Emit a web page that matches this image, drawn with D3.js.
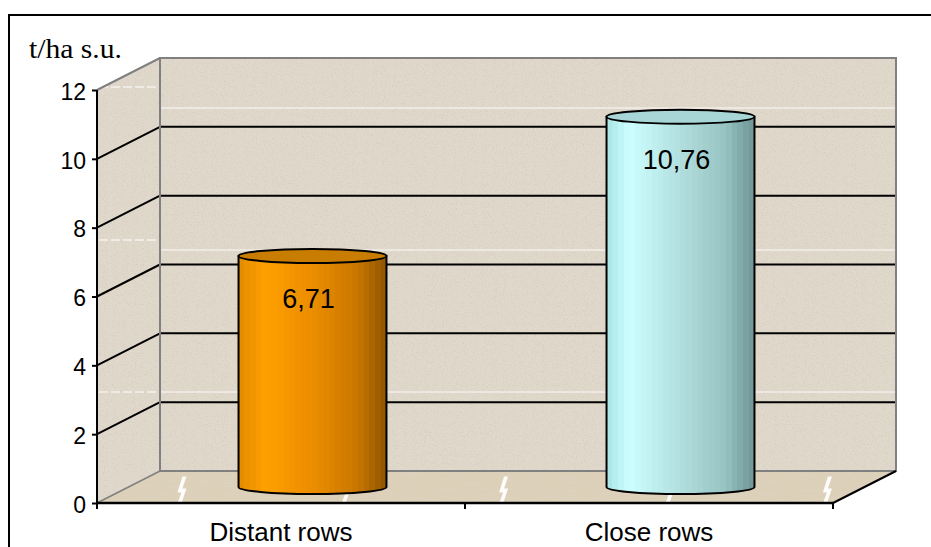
<!DOCTYPE html>
<html>
<head>
<meta charset="utf-8">
<script src="https://cdn.jsdelivr.net/npm/d3@7/dist/d3.min.js"></script>
<style>
  html, body { margin: 0; padding: 0; background: #ffffff; }
  svg { display: block; }
</style>
</head>
<body>
<svg id="chart" width="931" height="547"></svg>
<script>
// Yield per treatment (t/ha dry matter)
const categories = ["Distant rows", "Close rows"];
const values = [6.71, 10.76];
const valueLabels = ["6,71", "10,76"];
const yTicks = [0, 2, 4, 6, 8, 10, 12];
const gridValues = [2, 4, 6, 8, 10];
const unitLabel = "t/ha s.u.";

const W = 931, H = 547;
const svg = d3.select("#chart");
const defs = svg.append("defs");

// 3-D plot frame: front plane plus a depth offset to the back wall
const y = d3.scaleLinear().domain([0, 12]).range([503, 90]);
const x = d3.scaleBand().domain(categories).range([97, 833]);
const depth = { dx: 63, dy: -32 };
const xL = x.range()[0], xR = x.range()[1];
const yTop = y(12), yBot = y(0);

// ---- textures ----
const grain = defs.append("filter").attr("id", "grain")
  .attr("x", 0).attr("y", 0).attr("width", 1).attr("height", 1);
grain.append("feTurbulence").attr("type", "fractalNoise")
  .attr("baseFrequency", "0.9").attr("numOctaves", 2).attr("seed", 4).attr("result", "n");
grain.append("feColorMatrix").attr("in", "n").attr("type", "matrix")
  .attr("values", "0 0 0 0 0.62  0 0 0 0 0.58  0 0 0 0 0.5  4 0 0 0 -2.05").attr("result", "a");
grain.append("feComposite").attr("in", "a").attr("in2", "SourceAlpha").attr("operator", "in");

const streak = defs.append("filter").attr("id", "streak")
  .attr("x", 0).attr("y", 0).attr("width", 1).attr("height", 1);
streak.append("feTurbulence").attr("type", "fractalNoise")
  .attr("baseFrequency", "0.05 0.7").attr("numOctaves", 2).attr("seed", 7).attr("result", "n");
streak.append("feColorMatrix").attr("in", "n").attr("type", "matrix")
  .attr("values", "0 0 0 0 0.72  0 0 0 0 0.66  0 0 0 0 0.56  3.2 0 0 0 -1.5").attr("result", "a");
streak.append("feComposite").attr("in", "a").attr("in2", "SourceAlpha").attr("operator", "in");

// banded cylinder shading
function bandedGradient(id, keys, bands) {
  const interp = d3.scaleLinear().domain(keys.map(k => k[0])).range(keys.map(k => k[1]))
    .interpolate(d3.interpolateRgb);
  const g = defs.append("linearGradient").attr("id", id)
    .attr("x1", 0).attr("x2", 1).attr("y1", 0).attr("y2", 0);
  for (let i = 0; i < bands; i++) {
    const c = interp((i + 0.5) / bands);
    g.append("stop").attr("offset", i / bands).attr("stop-color", c);
    g.append("stop").attr("offset", (i + 1) / bands).attr("stop-color", c);
  }
}
bandedGradient("gOrange", [[0, "#e38a00"], [0.18, "#ffa000"], [0.5, "#eb8d00"], [0.8, "#c97600"], [1, "#8e5600"]], 26);
bandedGradient("gCyan", [[0, "#a9e2e2"], [0.15, "#ccffff"], [0.5, "#b2dede"], [0.8, "#97c3c3"], [1, "#6f9595"]], 26);
const barFill = ["url(#gOrange)", "url(#gCyan)"];
const capFill = ["#c97d00", "#a8d5d5"];

// ---- outer frame ----
svg.append("rect").attr("x", 9).attr("y", 15).attr("width", W + 20).attr("height", H + 20)
  .attr("fill", "#ffffff").attr("stroke", "#000").attr("stroke-width", 2);

// ---- walls and floor ----
const wallColor = "#e0d8cb";
const sideWall = [[xL, yTop], [xL + depth.dx, yTop + depth.dy], [xL + depth.dx, yBot + depth.dy], [xL, yBot]];
const backWall = [[xL + depth.dx, yTop + depth.dy], [xR + depth.dx, yTop + depth.dy],
                  [xR + depth.dx, yBot + depth.dy], [xL + depth.dx, yBot + depth.dy]];
const floor = [[xL, yBot], [xR, yBot], [xR + depth.dx, yBot + depth.dy], [xL + depth.dx, yBot + depth.dy]];
const line = d3.line();
const poly = p => line(p) + "Z";

[sideWall, backWall].forEach(p => {
  svg.append("path").attr("d", poly(p)).attr("fill", wallColor);
  svg.append("path").attr("d", poly(p)).attr("fill", "#fff").attr("filter", "url(#grain)").attr("opacity", 0.6);
});
svg.append("path").attr("d", poly(floor)).attr("fill", "#dcd0b8");
svg.append("path").attr("d", poly(floor)).attr("fill", "#fff").attr("filter", "url(#streak)").attr("opacity", 0.6);

// faint texture seams on the walls
const seamBack = [108, 250, 392];
seamBack.forEach(s => {
  svg.append("line").attr("x1", xL + depth.dx).attr("x2", xR + depth.dx).attr("y1", s).attr("y2", s)
    .attr("stroke", "#ffffff").attr("stroke-width", 1).attr("opacity", 0.9);
});
const seamSide = [87, 240, 392];
seamSide.forEach(s => {
  svg.append("line").attr("x1", xL + 2).attr("x2", xL + depth.dx).attr("y1", s).attr("y2", s)
    .attr("stroke", "#ffffff").attr("stroke-width", 1).attr("stroke-dasharray", "9 3");
});
// light tile breaks across the floor
const breaks = [0.113, 0.336, 0.55, 0.776, 0.99];
breaks.forEach(t => {
  const bx = xL + t * (xR - xL) + 0.02 * depth.dx;
  const by = yBot + 0.42 * depth.dy;
  svg.append("path")
    .attr("d", `M${bx + 5},${by - 13} L${bx + 1},${by - 1} L${bx + 5},${by - 1} L${bx},${by + 14} L${bx - 4},${by + 14} L${bx},${by + 3} L${bx - 4},${by + 3} L${bx + 1},${by - 13}Z`)
    .attr("fill", "#ffffff").attr("opacity", 0.95);
});

// ---- gridlines ----
const grid = svg.append("g").attr("stroke", "#000").attr("stroke-width", 2).attr("fill", "none");
gridValues.forEach(v => {
  grid.append("line").attr("x1", xL).attr("y1", y(v)).attr("x2", xL + depth.dx).attr("y2", y(v) + depth.dy);
  grid.append("line").attr("x1", xL + depth.dx).attr("y1", y(v) + depth.dy).attr("x2", xR + depth.dx).attr("y2", y(v) + depth.dy);
});

// wall outlines
const edge = svg.append("g").attr("stroke", "#808080").attr("stroke-width", 2).attr("fill", "none");
edge.append("path").attr("d", poly(backWall));
edge.append("line").attr("x1", xL).attr("y1", yTop).attr("x2", xL + depth.dx).attr("y2", yTop + depth.dy);
edge.append("line").attr("x1", xL).attr("y1", yBot).attr("x2", xL + depth.dx).attr("y2", yBot + depth.dy).attr("stroke-width", 1.5);

// ---- axes ----
const axisFont = "'Liberation Sans', Arial, sans-serif";
const yAxis = svg.append("g").attr("transform", `translate(${xL},0)`)
  .call(d3.axisLeft(y).tickValues(yTicks).tickSize(5).tickFormat(d3.format("d")));
yAxis.select(".domain").attr("stroke", "#000").attr("stroke-width", 2).attr("d", `M0,${yTop}V${yBot}`);
yAxis.selectAll(".tick line").attr("stroke", "#000").attr("stroke-width", 2);
yAxis.selectAll(".tick text").attr("font-family", axisFont).attr("font-size", 23).attr("fill", "#000")
  .attr("x", -11).attr("dy", "0.40em");

const xAxis = svg.append("g").attr("transform", `translate(0,${yBot})`)
  .call(d3.axisBottom(x).tickSize(0).tickFormat(""));
xAxis.select(".domain").attr("stroke", "#000").attr("stroke-width", 2.5).attr("d", `M${xL},0H${xR}`);
// tick marks sit on the category boundaries
const boundaries = [xL, ...categories.slice(1).map(c => x(c)), xR];
boundaries.forEach(bx => {
  svg.append("line").attr("x1", bx).attr("x2", bx).attr("y1", yBot).attr("y2", yBot + 6)
    .attr("stroke", "#000").attr("stroke-width", 2);
});
svg.append("line").attr("x1", xR).attr("y1", yBot).attr("x2", xR + depth.dx).attr("y2", yBot + depth.dy)
  .attr("stroke", "#000").attr("stroke-width", 2);

categories.forEach(c => {
  svg.append("text").attr("x", x(c) + x.bandwidth() / 2).attr("y", 541)
    .attr("text-anchor", "middle").attr("font-family", axisFont).attr("font-size", 26)
    .text(c);
});

svg.append("text").attr("x", 29).attr("y", 58)
  .attr("font-family", "'Liberation Serif', 'Times New Roman', serif").attr("font-size", 27)
  .attr("textLength", 93).attr("lengthAdjust", "spacingAndGlyphs")
  .text(unitLabel);

// ---- cylinders ----
const barW = x.bandwidth() * 0.402;
const rx = barW / 2, ry = 7;
values.forEach((v, i) => {
  const cx = x(categories[i]) + x.bandwidth() / 2 + depth.dx / 2;
  const top = y(v) + depth.dy / 2;
  const base = y(0) + depth.dy / 2;
  const g = svg.append("g");
  g.append("path")
    .attr("d", `M${cx - rx},${top} L${cx - rx},${base} A${rx},${ry} 0 0 0 ${cx + rx},${base} L${cx + rx},${top} Z`)
    .attr("fill", barFill[i]).attr("stroke", "#000").attr("stroke-width", 2);
  g.append("ellipse").attr("cx", cx).attr("cy", top).attr("rx", rx).attr("ry", ry)
    .attr("fill", capFill[i]).attr("stroke", "#000").attr("stroke-width", 2);
  g.append("text").attr("x", cx - 4).attr("y", top + 52)
    .attr("text-anchor", "middle").attr("font-family", axisFont).attr("font-size", 27)
    .text(valueLabels[i]);
});
</script>
</body>
</html>
